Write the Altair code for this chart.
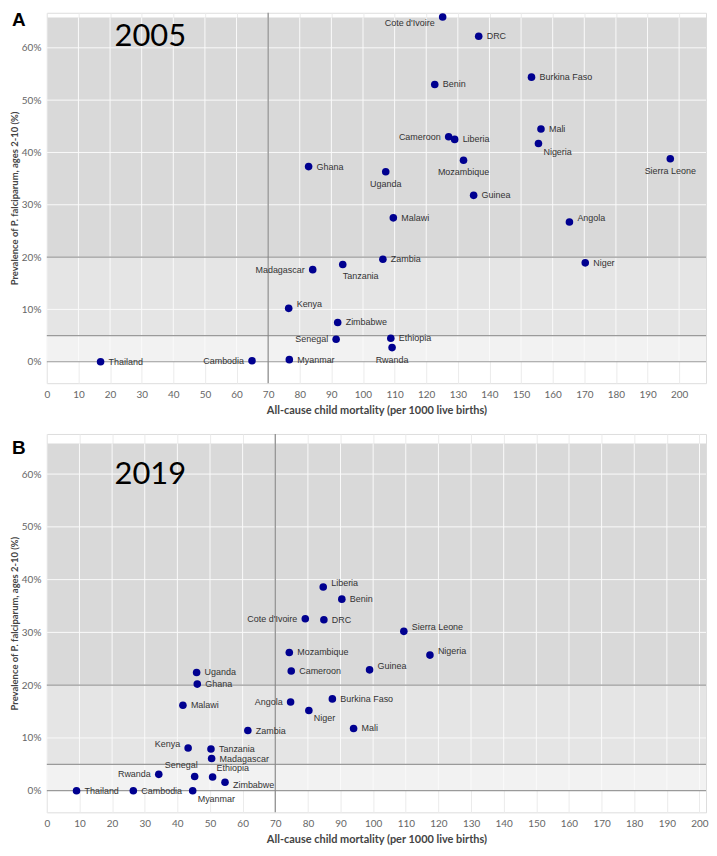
import altair as alt
import pandas as pd

COUNTRIES = ["Angola", "Benin", "Burkina Faso", "Cambodia", "Cameroon", "Cote d'Ivoire",
             "DRC", "Ethiopia", "Ghana", "Guinea", "Kenya", "Liberia", "Madagascar",
             "Malawi", "Mali", "Mozambique", "Myanmar", "Niger", "Nigeria", "Rwanda",
             "Senegal", "Sierra Leone", "Tanzania", "Thailand", "Uganda", "Zambia", "Zimbabwe"]

# 2005: child mortality (per 1000) and PfPR2-10 (%)
MORT_2005 = [165.3, 122.7, 153.3, 64.9, 127.1, 125.2, 136.6, 108.8, 82.8, 135.0, 76.5, 129.0, 84.1,
             109.6, 156.3, 131.8, 76.7, 170.3, 155.5, 109.2, 91.5, 197.2, 93.6, 17.0, 107.2, 106.3, 92.0]
PREV_2005 = [26.7, 53.0, 54.4, 0.2, 43.0, 65.9, 62.2, 4.5, 37.3, 31.8, 10.2, 42.5, 17.6,
             27.5, 44.5, 38.5, 0.4, 18.9, 41.7, 2.7, 4.3, 38.8, 18.6, 0.0, 36.3, 19.6, 7.5]
POS_2005 = ["ru", "r", "r", "l", "l", "lb", "r", "r", "r", "r", "ru", "r", "l",
            "r", "r", "b", "r", "r", "br", "b", "l", "b", "bl", "r", "b", "r", "r"]

# 2019
MORT_2019 = [74.7, 90.4, 87.5, 26.5, 74.9, 79.2, 84.9, 50.8, 46.1, 98.9, 43.3, 84.7, 50.5,
             41.7, 94.0, 74.3, 44.7, 80.3, 117.4, 34.3, 45.3, 109.4, 50.3, 9.1, 45.9, 61.6, 54.6]
PREV_2019 = [16.8, 36.3, 17.4, 0.0, 22.7, 32.6, 32.4, 2.6, 20.2, 22.9, 8.1, 38.6, 6.1,
             16.2, 11.8, 26.2, 0.0, 15.2, 25.7, 3.1, 2.7, 30.2, 7.9, 0.0, 22.4, 11.4, 1.6]
POS_2019 = ["l", "r", "r", "r", "r", "l", "r", "ar", "r", "ru", "lu", "ru", "r",
            "r", "r", "r", "br", "br", "ru", "l", "al", "ru", "r", "r", "r", "r", "rd"]

BAND_EDGES = [0, 5, 20, 65.8]
BAND_COLORS = ["#f2f2f2", "#e5e5e5", "#d9d9d9"]
THRESHOLDS = [0, 5, 20]
MORTALITY_REF = [70]
X_TICKS = list(range(0, 201, 10))
Y_TICKS = list(range(0, 61, 10))

X_TITLE = "All-cause child mortality (per 1000 live births)"
Y_TITLE = "Prevalence of P. falciparum, ages 2-10 (%)"

# label placement: align, dx, dy
PLACEMENT = {
    "r": ("left", 8, 0), "ru": ("left", 8, -4), "rd": ("left", 8, 3),
    "l": ("right", -8, 0), "lu": ("right", -8, -4), "lb": ("right", -8, 6),
    "b": ("center", 0, 12), "br": ("left", 5, 8), "bl": ("left", 0, 12),
    "ar": ("left", 4, -9), "al": ("right", 3, -12),
}

W = 662


def panel(xs, ys, pos, year, letter, xmax, ydom, h, year_y, letter_y):
    pts = pd.DataFrame({"country": COUNTRIES, "mort": xs, "prev": ys, "pos": pos})
    bands = pd.DataFrame({"y0": BAND_EDGES[:-1], "y1": BAND_EDGES[1:], "c": BAND_COLORS})
    vgrid = pd.DataFrame({"gx": X_TICKS, "y0": BAND_EDGES[0], "y1": BAND_EDGES[-1]})
    hgrid = pd.DataFrame({"gy": Y_TICKS[1:]})
    thr = pd.DataFrame({"ty": THRESHOLDS})
    vref = pd.DataFrame({"vx": MORTALITY_REF})

    xscale = alt.Scale(domain=[0, xmax], nice=False, zero=False)
    yscale = alt.Scale(domain=ydom, nice=False, zero=False)
    xaxis = alt.Axis(values=X_TICKS, title=X_TITLE, grid=True, gridColor="#ebebeb",
                     domain=False, ticks=False, labelPadding=6, titlePadding=5,
                     labelFont="Lato", labelFontSize=10, labelColor="#666666",
                     titleFont="Lato", titleFontSize=11, titleFontWeight="bold",
                     titleColor="#444444", labelFlush=False)
    yaxis = alt.Axis(values=Y_TICKS, labelExpr="datum.value + '%'", title=Y_TITLE,
                     grid=False, domain=False, ticks=False, labelPadding=6, titlePadding=2,
                     labelFont="Lato", labelFontSize=10, labelColor="#666666",
                     titleFont="Lato", titleFontSize=9.5, titleFontWeight="bold",
                     titleColor="#444444")

    def X(f):
        return alt.X(f, type="quantitative", scale=xscale, axis=xaxis)

    def Y(f):
        return alt.Y(f, type="quantitative", scale=yscale, axis=yaxis)

    layers = []
    layers.append(alt.Chart(bands).mark_rect().encode(
        x=alt.value(0), x2=alt.value("width"), y=Y("y0"), y2=alt.Y2("y1"),
        color=alt.Color("c:N", scale=None)))
    layers.append(alt.Chart(vgrid).mark_rule(color="#fafafa", strokeWidth=1).encode(
        x=X("gx"), y=Y("y0"), y2=alt.Y2("y1")))
    layers.append(alt.Chart(hgrid).mark_rule(color="#fafafa", strokeWidth=1).encode(y=Y("gy")))
    layers.append(alt.Chart(thr).mark_rule(color="#9a9a9a", strokeWidth=1.2).encode(y=Y("ty")))
    layers.append(alt.Chart(vref).mark_rule(color="#8a8a8a", strokeWidth=1.2).encode(x=X("vx")))
    layers.append(alt.Chart(pts).mark_circle(size=58, color="#000090", opacity=1).encode(
        x=X("mort"), y=Y("prev")))
    for code in sorted(set(pos)):
        al, dx, dy = PLACEMENT[code]
        layers.append(alt.Chart(pts).transform_filter(alt.datum.pos == code).mark_text(
            align=al, dx=dx, dy=dy, baseline="middle", font="Liberation Sans",
            fontSize=9, color="#333333").encode(x=X("mort"), y=Y("prev"), text="country:N"))
    layers.append(alt.Chart(pd.DataFrame({"t": [year]})).mark_text(
        align="left", baseline="alphabetic", font="Lato", fontSize=31, color="#000000").encode(
        x=alt.value(68), y=alt.value(year_y), text="t:N"))
    layers.append(alt.Chart(pd.DataFrame({"t": [letter]})).mark_text(
        align="left", baseline="alphabetic", font="Liberation Sans", fontWeight="bold",
        fontSize=19, color="#000000").encode(
        x=alt.value(-35), y=alt.value(letter_y), text="t:N"))
    return alt.layer(*layers).properties(width=W, height=h)


pa = panel(MORT_2005, PREV_2005, POS_2005, "2005", "A", 208.5, [-4.1, 66.7], 372, 33, 13)
pb = panel(MORT_2019, PREV_2019, POS_2019, "2019", "B", 202, [-4.1, 67.6], 380, 50, 20)

chart = alt.vconcat(pa, pb, spacing=16).properties(padding=0).configure_view(
    stroke=None).configure(background="white")

chart.save("out.html", embed_options={"renderer": "svg", "actions": False})
